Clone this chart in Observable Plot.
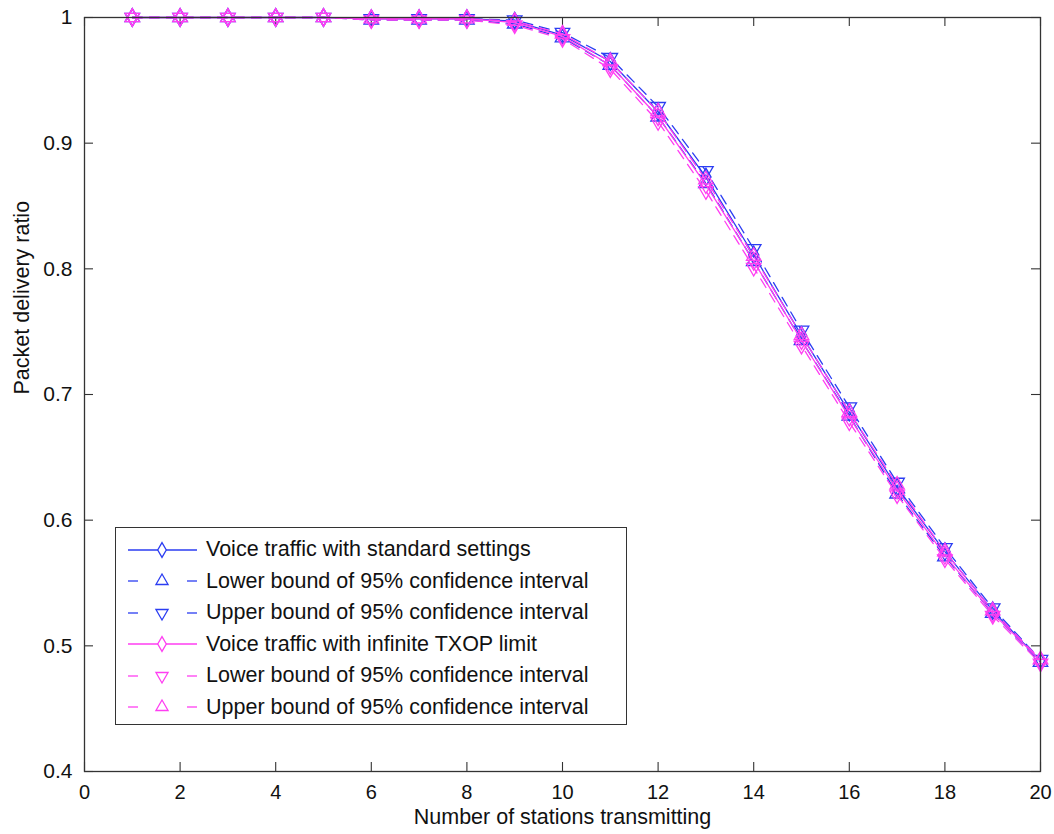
<!DOCTYPE html>
<html>
<head>
<meta charset="utf-8">
<script src="https://cdn.jsdelivr.net/npm/d3@7"></script>
<script src="https://cdn.jsdelivr.net/npm/@observablehq/plot@0.6"></script>
<style>
  body { margin: 0; background: #fff; }
  #wrap { position: relative; width: 1054px; height: 834px; font-family: "Liberation Sans", Arial, sans-serif; }
  #legend { position: absolute; left: 115px; top: 527px; width: 512px; height: 198px; border: 1.3px solid #333; background: #fff; box-sizing: border-box; padding-top: 6px; }
  .row { display: flex; align-items: center; height: 31.5px; }
  .row svg { width: 90px; height: 30px; flex: none; }
  .row span { font-size: 21.5px; color: #111; margin-left: 0px; white-space: nowrap; }
</style>
</head>
<body>
<div id="wrap"></div>
<script>
const stations = [1,2,3,4,5,6,7,8,9,10,11,12,13,14,15,16,17,18,19,20];
const stdMean  = [1,1,1,1,1,0.999,0.999,0.999,0.997,0.986,0.965,0.925,0.873,0.811,0.747,0.686,0.626,0.575,0.528,0.488];
const stdLower = [1,1,1,1,1,0.998,0.998,0.998,0.995,0.984,0.962,0.921,0.868,0.806,0.743,0.683,0.621,0.571,0.526,0.487];
const stdUpper = [1,1,1,1,1,0.999,0.999,0.999,0.998,0.988,0.968,0.929,0.878,0.816,0.751,0.690,0.630,0.578,0.530,0.489];
const infMean  = [1,1,1,1,1,0.999,0.999,0.999,0.996,0.985,0.962,0.921,0.867,0.806,0.743,0.682,0.624,0.572,0.526,0.488];
const infLower = [1,1,1,1,1,0.998,0.998,0.998,0.994,0.983,0.959,0.917,0.862,0.801,0.739,0.678,0.620,0.569,0.524,0.486];
const infUpper = [1,1,1,1,1,0.999,0.999,0.999,0.997,0.987,0.965,0.925,0.871,0.810,0.747,0.686,0.628,0.575,0.528,0.489];
const xTicks = [0,2,4,6,8,10,12,14,16,18,20];
const yTicks = [0.4,0.5,0.6,0.7,0.8,0.9,1];
const xLabel = "Number of stations transmitting";
const yLabel = "Packet delivery ratio";
const seriesNames = [
  "Voice traffic with standard settings",
  "Lower bound of 95% confidence interval",
  "Upper bound of 95% confidence interval",
  "Voice traffic with infinite TXOP limit",
  "Lower bound of 95% confidence interval",
  "Upper bound of 95% confidence interval"
];

const BLUE = "#2b3df2", MAG = "#ff3ef2";
const sqrt3 = Math.sqrt(3);
const triangleDown = {
  draw(context, size) {
    const y = -Math.sqrt(size / (sqrt3 * 3));
    context.moveTo(0, -y * 2);
    context.lineTo(-sqrt3 * y, y);
    context.lineTo(sqrt3 * y, y);
    context.closePath();
  }
};

const series = [
  {vals: stdMean,  color: BLUE, dash: null,   symbol: "diamond", r: 5.4},
  {vals: stdLower, color: BLUE, dash: "10,7", symbol: "triangle", r: 5.4},
  {vals: stdUpper, color: BLUE, dash: "10,7", symbol: triangleDown, r: 5.4},
  {vals: infMean,  color: MAG,  dash: null,   symbol: "diamond", r: 5.4},
  {vals: infLower, color: MAG,  dash: "10,7", symbol: triangleDown, r: 5.4},
  {vals: infUpper, color: MAG,  dash: "10,7", symbol: "triangle", r: 5.4}
];

const W = 1054, H = 834, mL = 84, mR = 14, mT = 17, mB = 63;
const iW = W - mL - mR, iH = H - mT - mB;
const tick = 9;

const marks = [];
series.forEach(s => {
  const data = stations.map((x, i) => ({x, y: s.vals[i]}));
  marks.push(Plot.line(data, {x: "x", y: "y", stroke: s.color, strokeWidth: 1.3, strokeDasharray: s.dash}));
  marks.push(Plot.dot(data, {x: "x", y: "y", stroke: s.color, fill: "none", strokeWidth: 1.3, symbol: s.symbol, r: s.r}));
});

const chart = Plot.plot({
  width: W, height: H,
  marginLeft: mL, marginRight: mR, marginTop: mT, marginBottom: mB,
  style: {fontFamily: "'Liberation Sans', Arial, sans-serif", fontSize: "21px", color: "#111", background: "#fff"},
  x: {domain: [0, 20]},
  y: {domain: [0.4, 1]},
  marks: [
    Plot.axisX(xTicks, {tickSize: 0, tickPadding: 13, fontSize: 20, label: null, tickFormat: d => String(d)}),
    Plot.axisY(yTicks, {tickSize: 0, tickPadding: 12, label: null, tickFormat: d => d === 1 ? "1" : d3.format(".1f")(d)}),
    Plot.tickX(xTicks, {x: d => d, insetTop: iH - tick, stroke: "#333", strokeWidth: 1.1}),
    Plot.tickX(xTicks, {x: d => d, insetBottom: iH - tick, stroke: "#333", strokeWidth: 1.1}),
    Plot.tickY(yTicks, {y: d => d, insetRight: iW - tick, stroke: "#333", strokeWidth: 1.1}),
    Plot.tickY(yTicks, {y: d => d, insetLeft: iW - tick, stroke: "#333", strokeWidth: 1.1}),
    ...marks,
    Plot.frame({stroke: "#333", strokeWidth: 1.3}),
    Plot.text([xLabel], {frameAnchor: "bottom", dy: 52, fontSize: 21.5, fill: "#111"}),
    Plot.text([yLabel], {frameAnchor: "left", dx: -62, rotate: -90, fontSize: 21.5, fill: "#111"})
  ]
});
const wrap = document.getElementById("wrap");
wrap.appendChild(chart);

// legend
const legend = document.createElement("div");
legend.id = "legend";
series.forEach((s, i) => {
  const row = document.createElement("div");
  row.className = "row";
  const svg = d3.create("svg").attr("width", 90).attr("height", 30);
  if (s.dash) {
    svg.append("line").attr("x1", 12).attr("x2", 22).attr("y1", 15).attr("y2", 15)
      .attr("stroke", s.color).attr("stroke-width", 1.3);
    svg.append("line").attr("x1", 71).attr("x2", 81).attr("y1", 15).attr("y2", 15)
      .attr("stroke", s.color).attr("stroke-width", 1.3);
  } else {
    svg.append("line").attr("x1", 12).attr("x2", 81).attr("y1", 15).attr("y2", 15)
      .attr("stroke", s.color).attr("stroke-width", 1.3);
  }
  const sym = typeof s.symbol === "string" ? (s.symbol === "diamond" ? d3.symbolDiamond : d3.symbolTriangle) : s.symbol;
  svg.append("path").attr("transform", "translate(46,15)")
    .attr("d", d3.symbol(sym, Math.PI * 4.5 * 4.5)())
    .attr("fill", "#fff").attr("stroke", s.color).attr("stroke-width", 1.3);
  row.appendChild(svg.node());
  const t = document.createElement("span");
  t.textContent = seriesNames[i];
  row.appendChild(t);
  legend.appendChild(row);
});
wrap.appendChild(legend);
</script>
</body>
</html>
